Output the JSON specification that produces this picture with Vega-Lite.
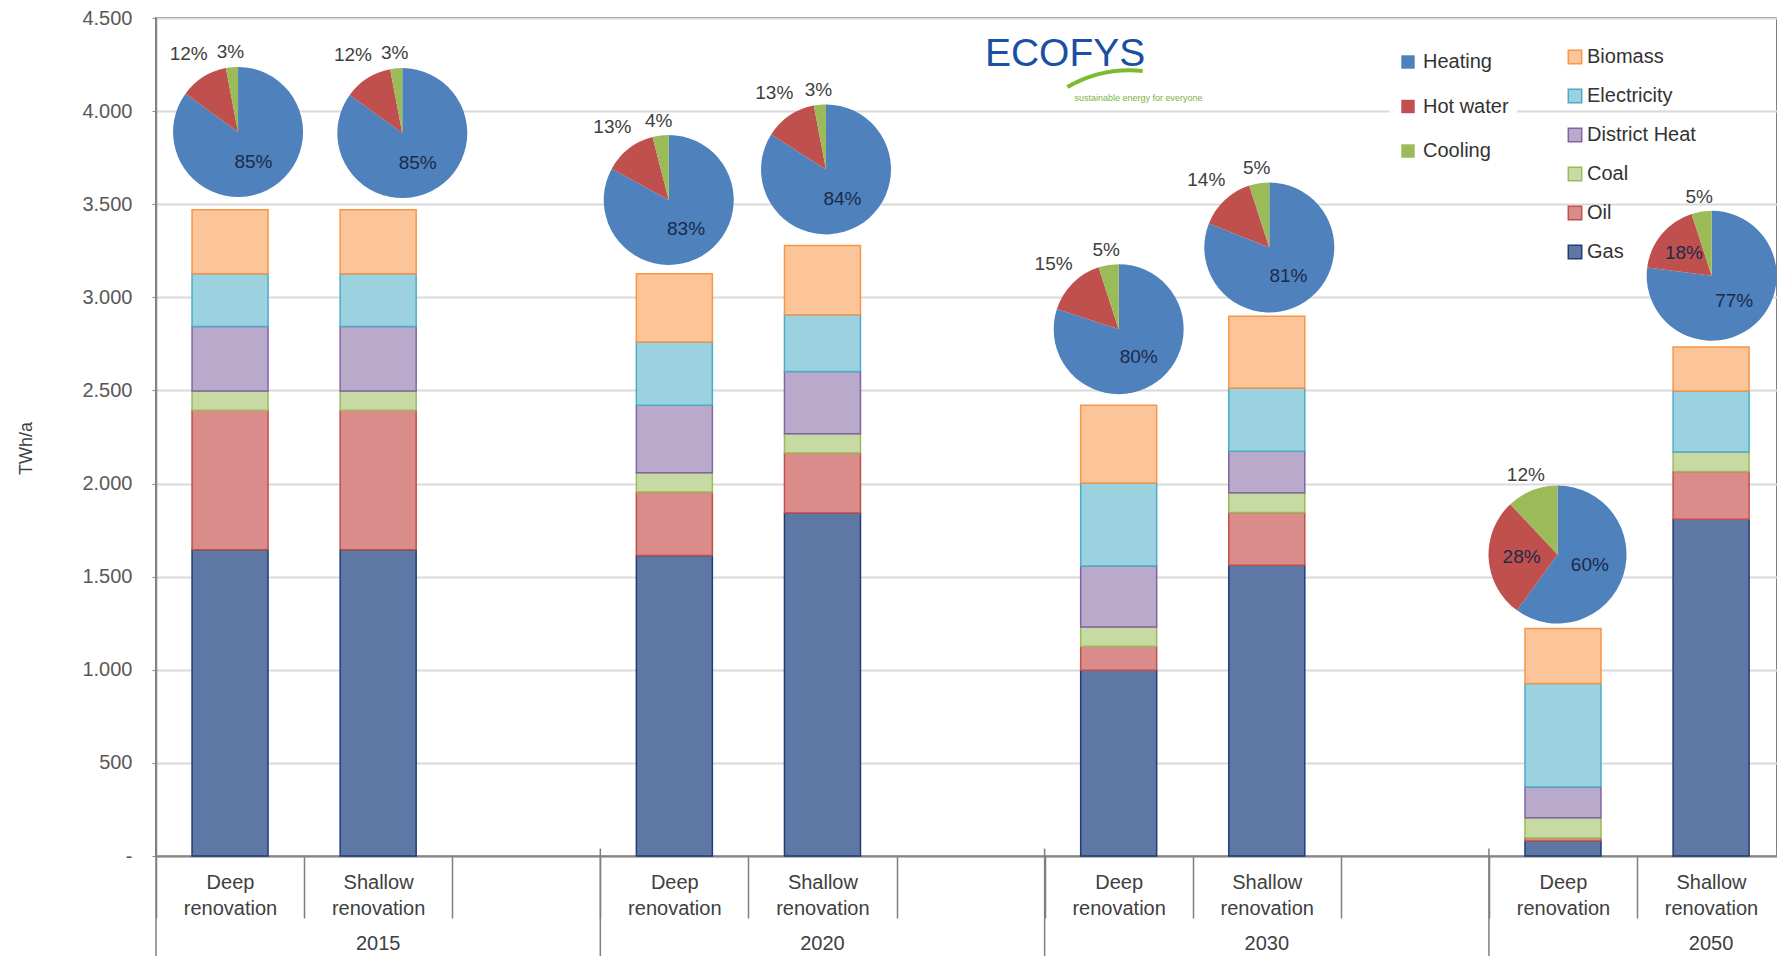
{
  "$schema": "https://vega.github.io/schema/vega-lite/v6.json",
  "width": 1621,
  "height": 838,
  "autosize": "none",
  "padding": {"left": 156, "top": 18, "right": 0, "bottom": 100},
  "background": "white",
  "config": {
    "view": {"stroke": "#7f7f7f", "strokeWidth": 2},
    "font": "Liberation Sans",
    "axis": {"labelFont": "Liberation Sans", "titleFont": "Liberation Sans"},
    "legend": {"labelFont": "Liberation Sans"}
  },
  "datasets": {
    "carriers": [
      {"carrier": "Gas", "rank": 1},
      {"carrier": "Oil", "rank": 2},
      {"carrier": "Coal", "rank": 3},
      {"carrier": "District Heat", "rank": 4},
      {"carrier": "Electricity", "rank": 5},
      {"carrier": "Biomass", "rank": 6}
    ],
    "bars": [
      {"year": "2015", "scenario": "Deep renovation", "slot": 0.5, "carrier": "Gas", "twh": 1645},
      {"year": "2015", "scenario": "Deep renovation", "slot": 0.5, "carrier": "Oil", "twh": 748},
      {"year": "2015", "scenario": "Deep renovation", "slot": 0.5, "carrier": "Coal", "twh": 104},
      {"year": "2015", "scenario": "Deep renovation", "slot": 0.5, "carrier": "District Heat", "twh": 347},
      {"year": "2015", "scenario": "Deep renovation", "slot": 0.5, "carrier": "Electricity", "twh": 283},
      {"year": "2015", "scenario": "Deep renovation", "slot": 0.5, "carrier": "Biomass", "twh": 343},
      {"year": "2015", "scenario": "Shallow renovation", "slot": 1.5, "carrier": "Gas", "twh": 1645},
      {"year": "2015", "scenario": "Shallow renovation", "slot": 1.5, "carrier": "Oil", "twh": 748},
      {"year": "2015", "scenario": "Shallow renovation", "slot": 1.5, "carrier": "Coal", "twh": 104},
      {"year": "2015", "scenario": "Shallow renovation", "slot": 1.5, "carrier": "District Heat", "twh": 347},
      {"year": "2015", "scenario": "Shallow renovation", "slot": 1.5, "carrier": "Electricity", "twh": 283},
      {"year": "2015", "scenario": "Shallow renovation", "slot": 1.5, "carrier": "Biomass", "twh": 343},
      {"year": "2020", "scenario": "Deep renovation", "slot": 3.5, "carrier": "Gas", "twh": 1614},
      {"year": "2020", "scenario": "Deep renovation", "slot": 3.5, "carrier": "Oil", "twh": 340},
      {"year": "2020", "scenario": "Deep renovation", "slot": 3.5, "carrier": "Coal", "twh": 104},
      {"year": "2020", "scenario": "Deep renovation", "slot": 3.5, "carrier": "District Heat", "twh": 362},
      {"year": "2020", "scenario": "Deep renovation", "slot": 3.5, "carrier": "Electricity", "twh": 340},
      {"year": "2020", "scenario": "Deep renovation", "slot": 3.5, "carrier": "Biomass", "twh": 367},
      {"year": "2020", "scenario": "Shallow renovation", "slot": 4.5, "carrier": "Gas", "twh": 1842},
      {"year": "2020", "scenario": "Shallow renovation", "slot": 4.5, "carrier": "Oil", "twh": 322},
      {"year": "2020", "scenario": "Shallow renovation", "slot": 4.5, "carrier": "Coal", "twh": 104},
      {"year": "2020", "scenario": "Shallow renovation", "slot": 4.5, "carrier": "District Heat", "twh": 334},
      {"year": "2020", "scenario": "Shallow renovation", "slot": 4.5, "carrier": "Electricity", "twh": 305},
      {"year": "2020", "scenario": "Shallow renovation", "slot": 4.5, "carrier": "Biomass", "twh": 372},
      {"year": "2030", "scenario": "Deep renovation", "slot": 6.5, "carrier": "Gas", "twh": 997},
      {"year": "2030", "scenario": "Deep renovation", "slot": 6.5, "carrier": "Oil", "twh": 130},
      {"year": "2030", "scenario": "Deep renovation", "slot": 6.5, "carrier": "Coal", "twh": 103},
      {"year": "2030", "scenario": "Deep renovation", "slot": 6.5, "carrier": "District Heat", "twh": 327},
      {"year": "2030", "scenario": "Deep renovation", "slot": 6.5, "carrier": "Electricity", "twh": 446},
      {"year": "2030", "scenario": "Deep renovation", "slot": 6.5, "carrier": "Biomass", "twh": 417},
      {"year": "2030", "scenario": "Shallow renovation", "slot": 7.5, "carrier": "Gas", "twh": 1561},
      {"year": "2030", "scenario": "Shallow renovation", "slot": 7.5, "carrier": "Oil", "twh": 283},
      {"year": "2030", "scenario": "Shallow renovation", "slot": 7.5, "carrier": "Coal", "twh": 107},
      {"year": "2030", "scenario": "Shallow renovation", "slot": 7.5, "carrier": "District Heat", "twh": 223},
      {"year": "2030", "scenario": "Shallow renovation", "slot": 7.5, "carrier": "Electricity", "twh": 339},
      {"year": "2030", "scenario": "Shallow renovation", "slot": 7.5, "carrier": "Biomass", "twh": 386},
      {"year": "2050", "scenario": "Deep renovation", "slot": 9.5, "carrier": "Gas", "twh": 81},
      {"year": "2050", "scenario": "Deep renovation", "slot": 9.5, "carrier": "Oil", "twh": 16},
      {"year": "2050", "scenario": "Deep renovation", "slot": 9.5, "carrier": "Coal", "twh": 109},
      {"year": "2050", "scenario": "Deep renovation", "slot": 9.5, "carrier": "District Heat", "twh": 165},
      {"year": "2050", "scenario": "Deep renovation", "slot": 9.5, "carrier": "Electricity", "twh": 555},
      {"year": "2050", "scenario": "Deep renovation", "slot": 9.5, "carrier": "Biomass", "twh": 295},
      {"year": "2050", "scenario": "Shallow renovation", "slot": 10.5, "carrier": "Gas", "twh": 1808},
      {"year": "2050", "scenario": "Shallow renovation", "slot": 10.5, "carrier": "Oil", "twh": 257},
      {"year": "2050", "scenario": "Shallow renovation", "slot": 10.5, "carrier": "Coal", "twh": 104},
      {"year": "2050", "scenario": "Shallow renovation", "slot": 10.5, "carrier": "Electricity", "twh": 328},
      {"year": "2050", "scenario": "Shallow renovation", "slot": 10.5, "carrier": "Biomass", "twh": 236}
    ],
    "pies": [
      {"year": "2015", "scenario": "Deep renovation", "px": 0.554, "py": 3888, "use": "Heating", "share": 0.85},
      {"year": "2015", "scenario": "Deep renovation", "px": 0.554, "py": 3888, "use": "Hot water", "share": 0.12},
      {"year": "2015", "scenario": "Deep renovation", "px": 0.554, "py": 3888, "use": "Cooling", "share": 0.03},
      {"year": "2015", "scenario": "Shallow renovation", "px": 1.663, "py": 3882, "use": "Heating", "share": 0.85},
      {"year": "2015", "scenario": "Shallow renovation", "px": 1.663, "py": 3882, "use": "Hot water", "share": 0.12},
      {"year": "2015", "scenario": "Shallow renovation", "px": 1.663, "py": 3882, "use": "Cooling", "share": 0.03},
      {"year": "2020", "scenario": "Deep renovation", "px": 3.462, "py": 3523, "use": "Heating", "share": 0.83},
      {"year": "2020", "scenario": "Deep renovation", "px": 3.462, "py": 3523, "use": "Hot water", "share": 0.13},
      {"year": "2020", "scenario": "Deep renovation", "px": 3.462, "py": 3523, "use": "Cooling", "share": 0.04},
      {"year": "2020", "scenario": "Shallow renovation", "px": 4.524, "py": 3687, "use": "Heating", "share": 0.84},
      {"year": "2020", "scenario": "Shallow renovation", "px": 4.524, "py": 3687, "use": "Hot water", "share": 0.13},
      {"year": "2020", "scenario": "Shallow renovation", "px": 4.524, "py": 3687, "use": "Cooling", "share": 0.03},
      {"year": "2030", "scenario": "Deep renovation", "px": 6.5, "py": 2829, "use": "Heating", "share": 0.80},
      {"year": "2030", "scenario": "Deep renovation", "px": 6.5, "py": 2829, "use": "Hot water", "share": 0.15},
      {"year": "2030", "scenario": "Deep renovation", "px": 6.5, "py": 2829, "use": "Cooling", "share": 0.05},
      {"year": "2030", "scenario": "Shallow renovation", "px": 7.517, "py": 3268, "use": "Heating", "share": 0.81},
      {"year": "2030", "scenario": "Shallow renovation", "px": 7.517, "py": 3268, "use": "Hot water", "share": 0.14},
      {"year": "2030", "scenario": "Shallow renovation", "px": 7.517, "py": 3268, "use": "Cooling", "share": 0.05},
      {"year": "2050", "scenario": "Deep renovation", "px": 9.463, "py": 1619, "use": "Heating", "share": 0.60},
      {"year": "2050", "scenario": "Deep renovation", "px": 9.463, "py": 1619, "use": "Hot water", "share": 0.28},
      {"year": "2050", "scenario": "Deep renovation", "px": 9.463, "py": 1619, "use": "Cooling", "share": 0.12},
      {"year": "2050", "scenario": "Shallow renovation", "px": 10.504, "py": 3116, "use": "Heating", "share": 0.77},
      {"year": "2050", "scenario": "Shallow renovation", "px": 10.504, "py": 3116, "use": "Hot water", "share": 0.18},
      {"year": "2050", "scenario": "Shallow renovation", "px": 10.504, "py": 3116, "use": "Cooling", "share": 0.05}
    ],
    "yearBounds": [{"b": 0}, {"b": 3}, {"b": 6}, {"b": 9}],
    "years": [
      {"year": "2015", "c": 1.5},
      {"year": "2020", "c": 4.5},
      {"year": "2030", "c": 7.5},
      {"year": "2050", "c": 10.5}
    ]
  },
  "layer": [
    {
      "data": {"name": "bars"},
      "transform": [
        {"lookup": "carrier", "from": {"data": {"name": "carriers"}, "key": "carrier", "fields": ["rank"]}}
      ],
      "mark": {"type": "bar", "size": 76, "strokeWidth": 1.5},
      "encoding": {
        "x": {
          "field": "slot", "type": "quantitative",
          "scale": {"domain": [0, 10.945], "nice": false, "zero": false, "padding": 0},
          "axis": {
            "title": null,
            "values": [0, 1, 2, 3, 4, 5, 6, 7, 8, 9, 10],
            "labelExpr": "datum.value % 3 == 2 ? '' : (datum.value % 3 == 0 ? ['Deep', 'renovation'] : ['Shallow', 'renovation'])",
            "labelOffset": 74,
            "labelPadding": -46,
            "labelFontSize": 20,
            "labelColor": "#404040",
            "labelLineHeight": 26,
            "labelOverlap": false,
            "labelBound": false,
            "labelFlush": false,
            "labelAlign": "center",
            "labelBaseline": "top",
            "tickSize": 62,
            "tickColor": "#7f7f7f",
            "tickWidth": 1.5,
            "domainColor": "#868686",
            "domainWidth": 2,
            "grid": false
          }
        },
        "y": {
          "field": "twh", "type": "quantitative", "stack": "zero",
          "scale": {"domain": [0, 4500], "nice": false},
          "axis": {
            "title": "TWh/a",
            "values": [0, 500, 1000, 1500, 2000, 2500, 3000, 3500, 4000, 4500],
            "labelExpr": "datum.value == 0 ? '-\u00a0\u00a0' : replace(format(datum.value, ','), ',', '.')",
            "labelFontSize": 20,
            "labelColor": "#595959",
            "labelPadding": 20,
            "tickSize": 4,
            "tickColor": "#868686",
            "domainColor": "#868686",
            "domainWidth": 1.5,
            "grid": true,
            "gridColor": "#d9d9d9",
            "gridWidth": 2,
            "titleFontSize": 18,
            "titleFontWeight": "normal",
            "titleColor": "#404040",
            "titlePadding": 46,
            "titleY": 430
          }
        },
        "order": {"field": "rank", "type": "quantitative", "sort": "ascending"},
        "fill": {
          "field": "carrier", "type": "nominal",
          "scale": {
            "domain": ["Biomass", "Electricity", "District Heat", "Coal", "Oil", "Gas"],
            "range": ["#fbc599", "#9cd2e0", "#b9aacc", "#c8daa4", "#da8c8a", "#5f77a5"]
          },
          "legend": {
            "orient": "none", "legendX": 1401, "legendY": 21, "title": null,
            "symbolType": "square", "symbolSize": 180, "symbolStrokeWidth": 1.5,
            "labelFontSize": 20, "labelColor": "#333333", "labelOffset": 2,
            "rowPadding": 19, "padding": 8
          }
        },
        "stroke": {
          "field": "carrier", "type": "nominal",
          "scale": {
            "domain": ["Biomass", "Electricity", "District Heat", "Coal", "Oil", "Gas"],
            "range": ["#f79646", "#4bacc6", "#8064a2", "#9bbb59", "#c0504d", "#1f3d7a"]
          },
          "legend": {
            "orient": "none", "legendX": 1401, "legendY": 21, "title": null,
            "symbolType": "square", "symbolSize": 180, "symbolStrokeWidth": 1.5,
            "labelFontSize": 20, "labelColor": "#333333", "labelOffset": 2,
            "rowPadding": 19, "padding": 8
          }
        }
      }
    },
    {
      "data": {"name": "pies"},
      "transform": [{"stack": "share", "groupby": ["year", "scenario"], "as": ["s0", "s1"]}],
      "encoding": {
        "x": {"field": "px", "type": "quantitative"},
        "y": {"field": "py", "type": "quantitative"}
      },
      "layer": [
        {
          "mark": {"type": "arc", "radius": {"expr": "datum.year == '2050' && datum.scenario == 'Deep renovation' ? 69 : 65"}},
          "encoding": {
            "theta": {"field": "s0", "type": "quantitative", "scale": {"domain": [0, 1], "range": [0, 6.283185307]}},
            "theta2": {"field": "s1"},
            "color": {
              "field": "use", "type": "nominal",
              "scale": {"domain": ["Heating", "Hot water", "Cooling"], "range": ["#4f81bd", "#c0504d", "#9bbb59"]},
              "legend": {
                "orient": "none", "legendX": 1234, "legendY": 26, "title": null,
                "symbolType": "square", "symbolSize": 180, "symbolStrokeWidth": 0,
                "labelFontSize": 20, "labelColor": "#333333", "labelOffset": 5,
                "rowPadding": 24.5, "padding": 8, "fillColor": "white"
              }
            }
          }
        },
        {
          "mark": {
            "type": "text",
            "font": "Liberation Sans",
            "fontSize": 19,
            "align": "center",
            "baseline": "middle",
            "theta": {"expr": "PI * (datum.s0 + datum.s1)"},
            "radius": {"expr": "datum.use == 'Heating' ? 34 : (datum.use == 'Hot water' ? (datum.share >= 0.18 ? 36 : 92) : (datum.year == '2050' && datum.scenario == 'Deep renovation' ? 86 : 80))"},
            "fill": {"expr": "datum.use == 'Heating' || (datum.use == 'Hot water' && datum.share >= 0.18) ? '#1a2b4c' : '#404040'"}
          },
          "encoding": {
            "text": {"field": "share", "type": "quantitative", "format": ".0%"}
          }
        }
      ]
    },
    {
      "data": {"name": "yearBounds"},
      "mark": {"type": "rule", "color": "#7f7f7f", "strokeWidth": 1.5},
      "encoding": {
        "x": {"field": "b", "type": "quantitative"},
        "y": {"datum": 40},
        "y2": {"datum": -560}
      }
    },
    {
      "data": {"name": "years"},
      "mark": {"type": "text", "font": "Liberation Sans", "fontSize": 20, "color": "#404040", "align": "center", "baseline": "middle"},
      "encoding": {
        "x": {"field": "c", "type": "quantitative"},
        "y": {"datum": -474},
        "text": {"field": "year", "type": "nominal"}
      }
    },
    {
      "data": {"values": [{"t": "ECOFYS"}]},
      "mark": {"type": "text", "font": "Liberation Sans", "fontSize": 39, "color": "#1b4fa3", "align": "center", "baseline": "alphabetic"},
      "encoding": {
        "x": {"datum": 6.138},
        "y": {"datum": 4240},
        "text": {"field": "t", "type": "nominal"}
      }
    },
    {
      "data": {"values": [{"t": "sustainable energy for everyone"}]},
      "mark": {"type": "text", "font": "Liberation Sans", "fontSize": 9, "color": "#7cb342", "align": "center", "baseline": "middle"},
      "encoding": {
        "x": {"datum": 6.634},
        "y": {"datum": 4073},
        "text": {"field": "t", "type": "nominal"}
      }
    },
    {
      "data": {"values": [{"t": "swoosh"}]},
      "mark": {"type": "arc", "radius": 128, "radius2": 124, "theta": -0.52, "theta2": 0.1, "color": "#7dba2f"},
      "encoding": {
        "x": {"datum": 6.577},
        "y": {"datum": 3542}
      }
    }
  ]
}
